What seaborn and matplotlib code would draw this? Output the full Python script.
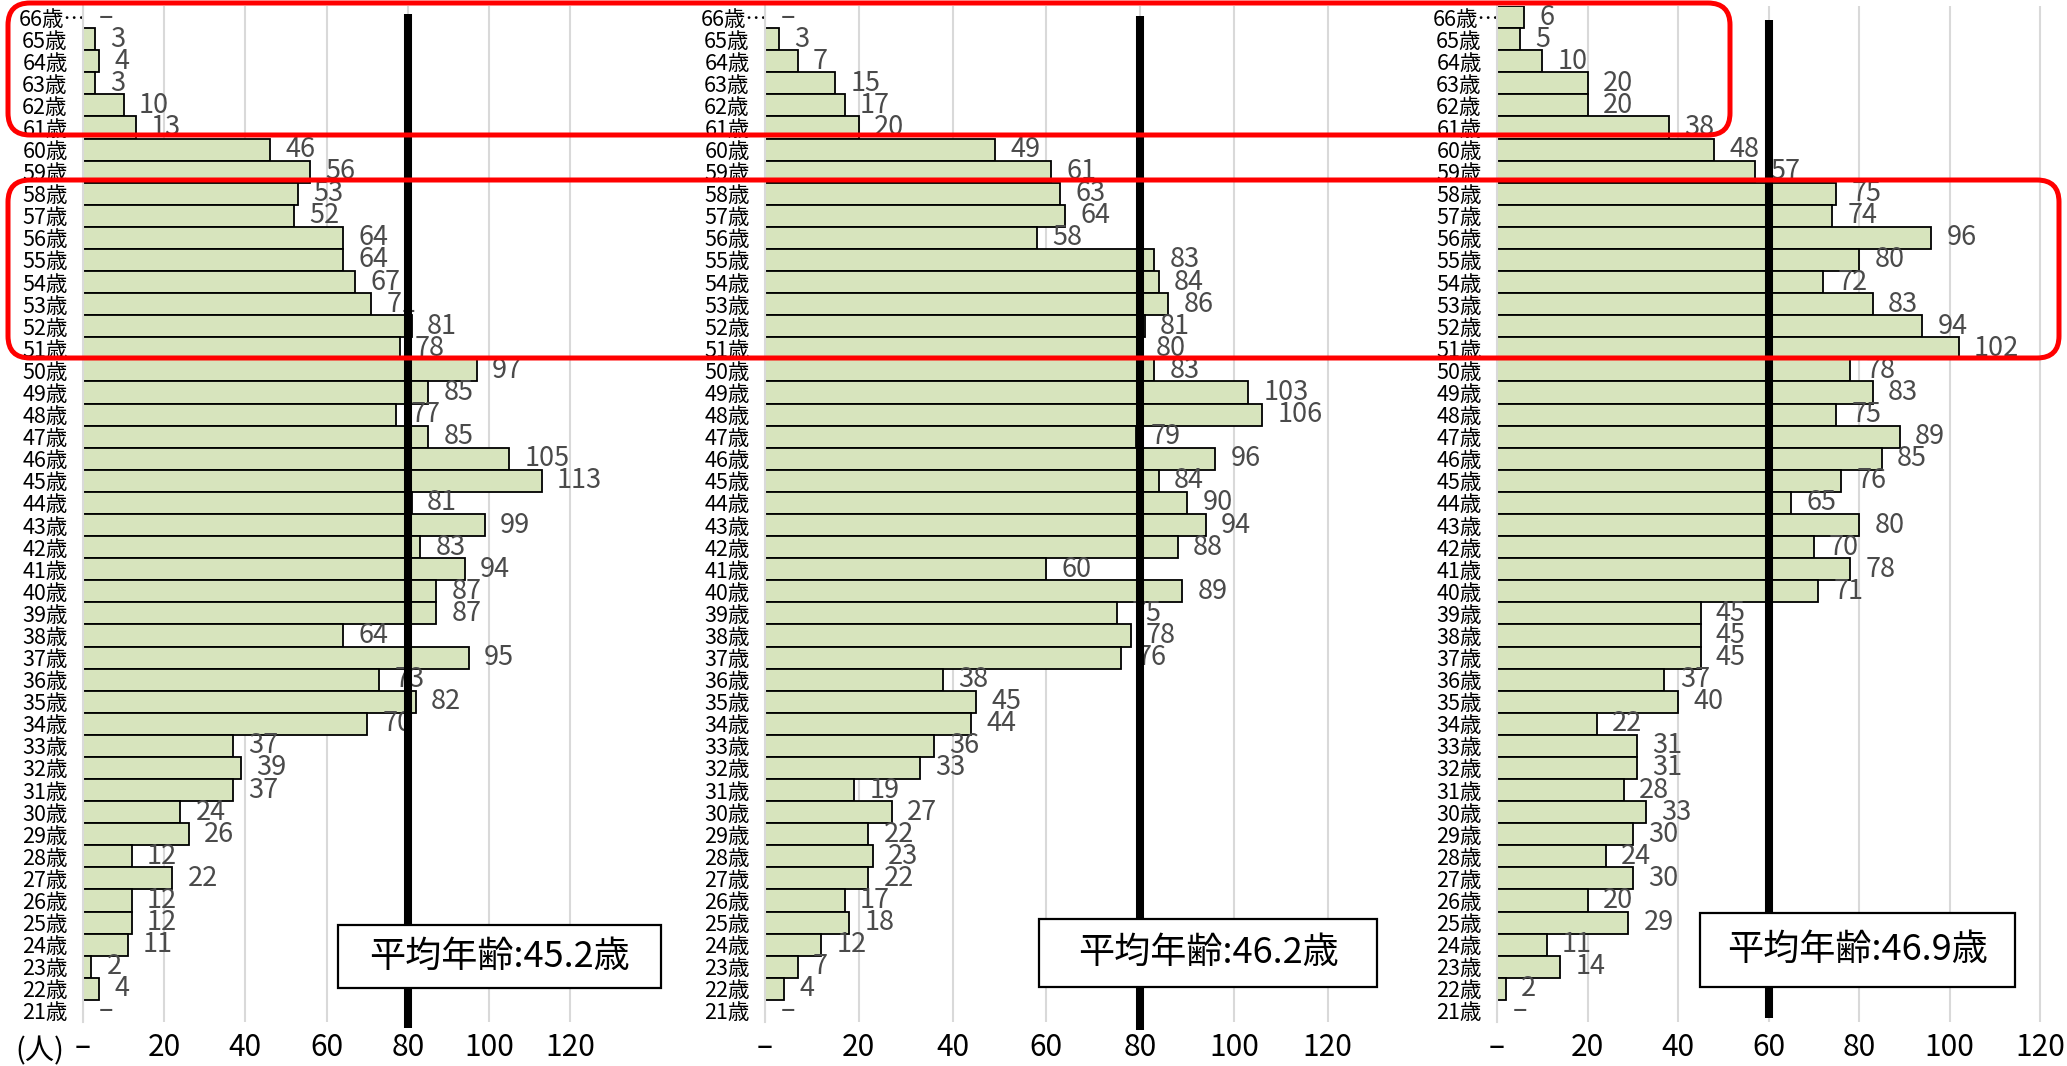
import matplotlib
matplotlib.use("Agg")
import matplotlib.pyplot as plt
import seaborn as sns
import pandas as pd
from matplotlib.patches import FancyBboxPatch, Rectangle

# ---- data -------------------------------------------------------------
ages = ["66歳…", "65歳", "64歳", "63歳", "62歳", "61歳", "60歳", "59歳", "58歳",
        "57歳", "56歳", "55歳", "54歳", "53歳", "52歳", "51歳", "50歳", "49歳",
        "48歳", "47歳", "46歳", "45歳", "44歳", "43歳", "42歳", "41歳", "40歳",
        "39歳", "38歳", "37歳", "36歳", "35歳", "34歳", "33歳", "32歳", "31歳",
        "30歳", "29歳", "28歳", "27歳", "26歳", "25歳", "24歳", "23歳", "22歳",
        "21歳"]

counts_a = [0, 3, 4, 3, 10, 13, 46, 56, 53, 52, 64, 64, 67, 71, 81, 78, 97, 85,
            77, 85, 105, 113, 81, 99, 83, 94, 87, 87, 64, 95, 73, 82, 70, 37, 39,
            37, 24, 26, 12, 22, 12, 12, 11, 2, 4, 0]
counts_b = [0, 3, 7, 15, 17, 20, 49, 61, 63, 64, 58, 83, 84, 86, 81, 80, 83, 103,
            106, 79, 96, 84, 90, 94, 88, 60, 89, 75, 78, 76, 38, 45, 44, 36, 33,
            19, 27, 22, 23, 22, 17, 18, 12, 7, 4, 0]
counts_c = [6, 5, 10, 20, 20, 38, 48, 57, 75, 74, 96, 80, 72, 83, 94, 102, 78, 83,
            75, 89, 85, 76, 65, 80, 70, 78, 71, 45, 45, 45, 37, 40, 22, 31, 31,
            28, 33, 30, 24, 30, 20, 29, 11, 14, 2, 0]

mean_ages = [45.2, 46.2, 46.9]
ref_lines = [80, 80, 60]

x_ticks = [0, 20, 40, 60, 80, 100, 120]
x_tick_labels = ["–", "20", "40", "60", "80", "100", "120"]

# ---- style ------------------------------------------------------------
W, H, DPI = 2067, 1066, 100
BAR = "#D7E4BD"
GRID = "#D9D9D9"
LABEL_GRAY = "#4A4A4A"

sns.set_theme(style="white")
plt.rcParams["font.family"] = ["Noto Sans CJK JP", "DejaVu Sans"]

fig = plt.figure(figsize=(W / DPI, H / DPI), dpi=DPI)
fig.patch.set_facecolor("white")

# panel geometry in pixels: left edge, pixels per unit, x max,
# mean-line vertical extent (row units), info-box extent (x0, x1, y0, y1)
panels = [
    dict(values=counts_a, left=83, ppu=4.06, xmax=135, line=(-0.14, 45.77),
         box=(338, 661, 925, 988)),
    dict(values=counts_b, left=765, ppu=4.69, xmax=135, line=(-0.05, 45.86),
         box=(1039, 1377, 919, 987)),
    dict(values=counts_c, left=1497, ppu=4.525, xmax=125, line=(0.13, 45.3),
         box=(1700, 2015, 913, 987)),
]

AX_TOP, AX_BOTTOM = 6, 1022

for p, mean_age, ref in zip(panels, mean_ages, ref_lines):
    width_px = p["xmax"] * p["ppu"]
    ax = fig.add_axes([p["left"] / W, (H - AX_BOTTOM) / H,
                       width_px / W, (AX_BOTTOM - AX_TOP) / H])
    df = pd.DataFrame({"age": ages, "count": p["values"]})
    sns.barplot(data=df, x="count", y="age", orient="h", color=BAR,
                saturation=1, edgecolor="black", linewidth=1.3, width=1.0,
                ax=ax, zorder=2)
    for patch in ax.patches:
        if patch.get_width() == 0:
            patch.set_linewidth(0)

    ax.set_xlim(0, p["xmax"])
    ax.set_ylim(len(ages) - 0.5, -0.5)
    ax.set_xlabel("")
    ax.set_ylabel("")
    ax.set_xticks(x_ticks, labels=x_tick_labels)
    ax.tick_params(axis="x", length=0, pad=7, labelsize=21.5, labelcolor="black")
    ax.tick_params(axis="y", length=0, pad=11, labelsize=15.5, labelcolor="black")
    ax.xaxis.grid(True, color=GRID, linewidth=1.5)
    ax.yaxis.grid(False)
    ax.set_axisbelow(True)
    for s in ("top", "right", "bottom"):
        ax.spines[s].set_visible(False)
    ax.spines["left"].set_color(GRID)
    ax.spines["left"].set_linewidth(1.5)
    ax.set_facecolor("none")

    # the truncated top label overflows toward the axis
    ax.get_yticklabels()[0].set_x(18 / width_px)

    labels = ["–" if v == 0 else str(v) for v in p["values"]]
    ax.bar_label(ax.containers[0], labels=labels, padding=11, fontsize=19.5,
                 color=LABEL_GRAY)

    # reference line
    ax.plot([ref, ref], list(p["line"]), color="black", linewidth=5.8,
            solid_capstyle="butt", zorder=4, clip_on=False)

    # average-age box
    x0, x1, y0, y1 = p["box"]
    fig.add_artist(Rectangle((x0 / DPI, (H - y1) / DPI), (x1 - x0) / DPI,
                             (y1 - y0) / DPI, transform=fig.dpi_scale_trans,
                             facecolor="white", edgecolor="black",
                             linewidth=1.6, zorder=5))
    fig.text((x0 + x1) / 2 / W, 1 - (y0 + y1) / 2 / H,
             f"平均年齢:{mean_age}歳", ha="center", va="center",
             fontsize=26, color="black", zorder=6)

# unit label
fig.text(40 / W, 1 - 1051 / H, "(人)", ha="center", va="center",
         fontsize=21, color="black")

# highlight frames
for (x0, x1, y0, y1) in [(8, 1730, 3, 135), (8, 2059, 180, 358)]:
    fig.add_artist(FancyBboxPatch((x0 / DPI, (H - y1) / DPI), (x1 - x0) / DPI,
                                  (y1 - y0) / DPI,
                                  boxstyle="round,pad=0,rounding_size=0.22",
                                  transform=fig.dpi_scale_trans, fill=False,
                                  edgecolor="#FF0000", linewidth=3.6,
                                  zorder=10))

fig.savefig("out.png", dpi=DPI)
